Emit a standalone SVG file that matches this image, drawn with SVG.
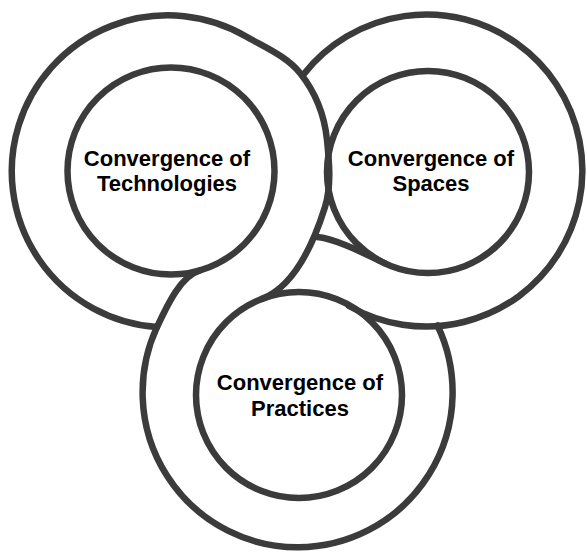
<svg xmlns="http://www.w3.org/2000/svg" width="587" height="553" viewBox="0 0 587 553">
  <style>
    .band { fill: none; stroke: #3b3b3b; stroke-width: 6.5; stroke-linecap: round; stroke-linejoin: round; }
    .label { font-family: "Liberation Sans", Arial, Helvetica, sans-serif; font-weight: bold; font-size: 22px; fill: #000; text-anchor: middle; }
  </style>
  <rect width="587" height="553" fill="#ffffff"/>

  <!-- interwoven band outlines: each outer edge runs into a neighbouring loop -->
  <g id="band-links">
    <!-- outer edge of the Technologies loop, turning into the inner edge of Practices -->
    <path class="band" d="M157 327 A156 156 0 1 1 247 37 C265.2 47.5 286.9 56.6 300 73 C315 91.7 324.6 116.1 327 140 C329.2 161.9 331.6 186.1 325 207 C310 254.7 290 288.1 262 298.9"/>
    <!-- outer edge of the Spaces loop, emerging from the Practices inner edge -->
    <path class="band" d="M349 306 A156 156 0 1 0 303.9 73.9"/>
    <!-- outer edge of the Practices loop, ending in the Technologies inner edge -->
    <path class="band" d="M437.5 325.5 A155 155 0 1 1 157 327 C167.6 304.4 180.8 276 200 270.4"/>
    <!-- tail of the Spaces inner edge -->
    <path class="band" d="M385 263.4 C367 254.9 336 238.5 317 237"/>
  </g>

  <g id="technologies">
    <circle class="band" cx="171" cy="171" r="103.5"/>
    <text class="label" x="167" y="165.5">Convergence of</text>
    <text class="label" x="167" y="191">Technologies</text>
  </g>

  <g id="spaces">
    <circle class="band" cx="428" cy="172" r="101"/>
    <text class="label" x="431" y="165.5">Convergence of</text>
    <text class="label" x="431" y="190.5">Spaces</text>
  </g>

  <g id="practices">
    <circle class="band" cx="299" cy="395" r="103"/>
    <text class="label" x="300" y="389.5">Convergence of</text>
    <text class="label" x="300" y="415.5">Practices</text>
  </g>
</svg>
